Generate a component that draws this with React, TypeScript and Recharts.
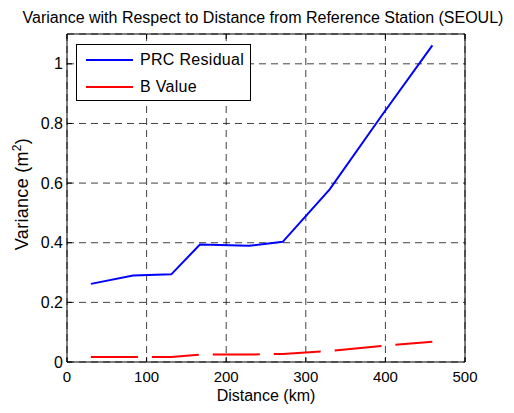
import {
  LineChart,
  CartesianGrid,
  XAxis,
  YAxis,
  Legend,
  Line,
} from "recharts";

// distance from reference station (km)
const distance = [30, 83, 131, 167, 229, 271, 330, 395, 459];
// PRC residual variance (m^2)
const prcResidual = [0.262, 0.29, 0.294, 0.394, 0.39, 0.403, 0.579, 0.825, 1.062];
// B value variance (m^2)
const bValue = [0.017, 0.017, 0.017, 0.025, 0.025, 0.027, 0.037, 0.054, 0.068];

const xTicks = [0, 100, 200, 300, 400, 500];
const yTicks = [0, 0.2, 0.4, 0.6, 0.8, 1];

const FONT = "'Liberation Sans', Arial, sans-serif";

const items = distance.map((d, i) => ({
  dist: d,
  prc: prcResidual[i],
  b: bValue[i],
}));

/** MATLAB 스타일 범례 박스 */
const LegendBox = () => (
  <div
    style={{
      position: "relative",
      width: 175,
      height: 57,
      border: "1px solid #000",
      background: "#fff",
      fontFamily: FONT,
      fontSize: 16,
      letterSpacing: 0.3,
      boxSizing: "border-box",
      color: "#000",
    }}
  >
    {[
      { name: "PRC Residual", color: "#0000ff" },
      { name: "B Value", color: "#ff0000" },
    ].map((s, i) => (
      <div
        key={s.name}
        style={{
          position: "absolute",
          top: 6 + i * 27,
          left: 9,
          height: 18,
          lineHeight: "18px",
          display: "flex",
          alignItems: "center",
          whiteSpace: "nowrap",
        }}
      >
        <div style={{ width: 47, height: 2, background: s.color, marginRight: 7 }} />
        <span>{s.name}</span>
      </div>
    ))}
  </div>
);

const YLabel = () => (
  <text
    transform="translate(28,194) rotate(-90)"
    textAnchor="middle"
    fontFamily={FONT}
    fontSize={18}
    letterSpacing={0.3}
    fill="#000"
  >
    Variance (m<tspan dy={-7} fontSize={12}>2</tspan>
    <tspan dy={7}>)</tspan>
  </text>
);

const App = () => {
  return (
    <div style={{ position: "absolute", left: 0, top: 0, width: 514, height: 413, background: "#fff" }}>
      <div
        style={{
          position: "absolute",
          top: 9,
          left: 0,
          width: 526,
          textAlign: "center",
          fontFamily: FONT,
          fontSize: 16,
          lineHeight: "18px",
          color: "#000",
          whiteSpace: "nowrap",
        }}
      >
        Variance with Respect to Distance from Reference Station (SEOUL)
      </div>
      <LineChart
        width={514}
        height={413}
        data={items}
        margin={{ top: 33, right: 48, left: 0, bottom: 0 }}
      >
        <CartesianGrid stroke="#000" strokeDasharray="7 5" strokeOpacity={0.75} />
        <XAxis
          dataKey="dist"
          type="number"
          domain={[0, 500]}
          ticks={xTicks}
          height={51}
          tickSize={-5}
          tickMargin={14}
          stroke="#000"
          tick={{ fill: "#000", fontFamily: FONT, fontSize: 15 }}
          label={{
            value: "Distance (km)",
            position: "insideBottom",
            offset: 12,
            fill: "#000",
            fontFamily: FONT,
            fontSize: 16,
          }}
        />
        <XAxis
          xAxisId="top"
          orientation="top"
          dataKey="dist"
          type="number"
          domain={[0, 500]}
          ticks={xTicks}
          height={1}
          tickSize={-5}
          stroke="#000"
          tick={() => <g />}
        />
        <YAxis
          type="number"
          domain={[0, 1.1]}
          ticks={yTicks}
          width={67}
          tickSize={-5}
          tickMargin={9}
          stroke="#000"
          tick={{ fill: "#000", fontFamily: FONT, fontSize: 16 }}
          label={<YLabel />}
        />
        <YAxis
          yAxisId="right"
          orientation="right"
          type="number"
          domain={[0, 1.1]}
          ticks={yTicks}
          width={1}
          tickSize={-5}
          stroke="#000"
          tick={() => <g />}
        />
        <Legend
          content={<LegendBox />}
          layout="horizontal"
          verticalAlign="middle"
          align="center"
          wrapperStyle={{ position: "absolute", left: 76, top: 44, width: 175 }}
        />
        <Line
          type="linear"
          dataKey="prc"
          name="PRC Residual"
          stroke="#0000ff"
          strokeWidth={2}
          dot={false}
          isAnimationActive={false}
        />
        <Line
          type="linear"
          dataKey="b"
          name="B Value"
          stroke="#ff0000"
          strokeWidth={2}
          strokeDasharray="47 14"
          dot={false}
          isAnimationActive={false}
        />
      </LineChart>
    </div>
  );
};

export default App;
